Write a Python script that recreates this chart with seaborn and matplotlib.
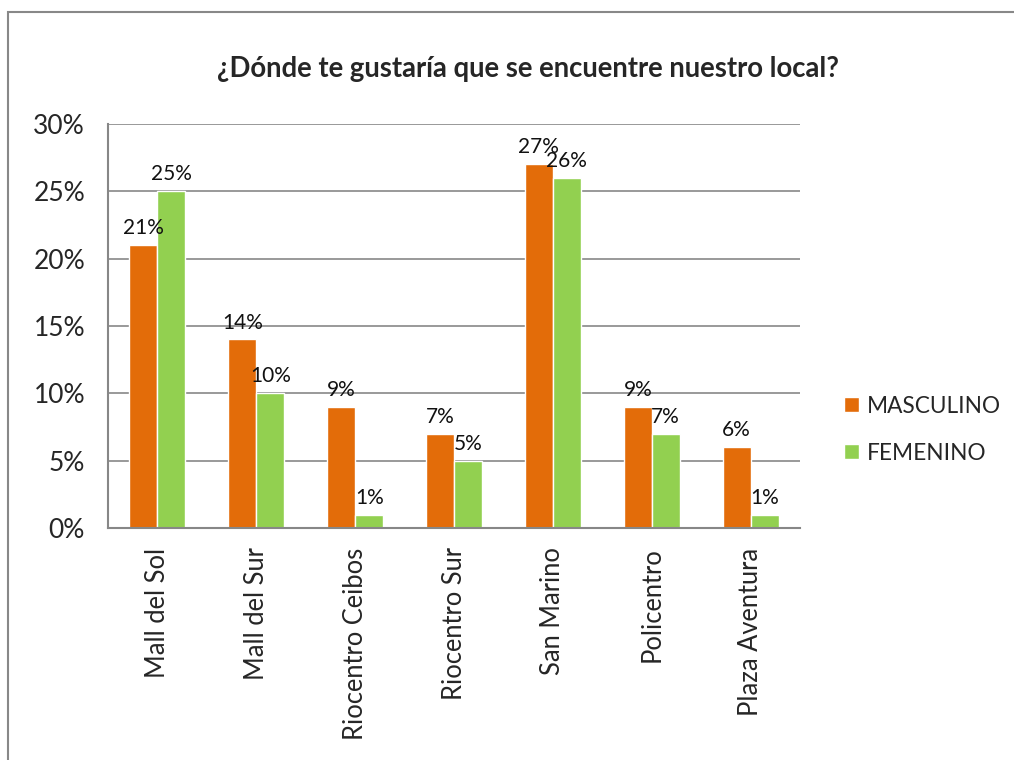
import matplotlib
matplotlib.use("Agg")
import matplotlib.pyplot as plt
import seaborn as sns
import pandas as pd
from matplotlib.patches import Rectangle

categories = ["Mall del Sol", "Mall del Sur", "Riocentro Ceibos", "Riocentro Sur",
              "San Marino", "Policentro", "Plaza Aventura"]
masculino = [21, 14, 9, 7, 27, 9, 6]
femenino = [25, 10, 1, 5, 26, 7, 1]
series = ["MASCULINO", "FEMENINO"]
yticks = [0, 5, 10, 15, 20, 25, 30]
title = "¿Dónde te gustaría que se encuentre nuestro local?"

df = pd.DataFrame({
    "cat": categories * 2,
    "val": masculino + femenino,
    "serie": [series[0]] * len(categories) + [series[1]] * len(categories),
})

sns.set_theme(style="white")
plt.rcParams['font.family'] = ['Lato', 'DejaVu Sans']

fig = plt.figure(figsize=(10.14, 7.6), dpi=100)
ax = fig.add_axes([0.1065, 0.3053, 0.789 - 0.1065, 0.8368 - 0.3053])

palette = {"MASCULINO": "#E36C09", "FEMENINO": "#92D050"}
sns.barplot(data=df, x="cat", y="val", hue="serie", palette=palette,
            width=0.566, gap=0, saturation=1, ax=ax, legend=True)

for cont in ax.containers:
    ax.bar_label(cont, labels=[f"{int(round(v))}%" for v in cont.datavalues],
                 padding=5, fontsize=15, color="#111111")

ax.set_ylim(0, 30)
ax.set_yticks(yticks)
ax.set_yticklabels([f"{t}%" for t in yticks], fontsize=19)
ax.yaxis.grid(True, color="#878787", linewidth=1.2)
ax.set_axisbelow(True)
ax.tick_params(axis="x", labelrotation=90, labelsize=18.4, pad=14, length=0)
ax.tick_params(axis="y", pad=16.5, length=0)
for lbl in ax.get_xticklabels():
    lbl.set_verticalalignment("top")
ax.set_xlabel("")
ax.set_ylabel("")
for s in ["top", "right"]:
    ax.spines[s].set_visible(False)
for s in ["left", "bottom"]:
    ax.spines[s].set_color("#878787")
    ax.spines[s].set_linewidth(1.5)

ax.set_title(title, fontsize=19.8, fontweight="bold", pad=34, x=0.607)

leg = ax.legend(loc="center left", bbox_to_anchor=(1.034, 0.243), frameon=False,
                fontsize=16.3, handlelength=0.65, handleheight=0.65, handletextpad=0.35,
                labelspacing=1.15)

fig.patches.append(Rectangle((8 / 1014, -0.1), 1.2, (760 - 12) / 760 + 0.1,
                             transform=fig.transFigure, fill=False,
                             edgecolor="#888888", linewidth=1.5))

fig.savefig("out.png", dpi=100)
